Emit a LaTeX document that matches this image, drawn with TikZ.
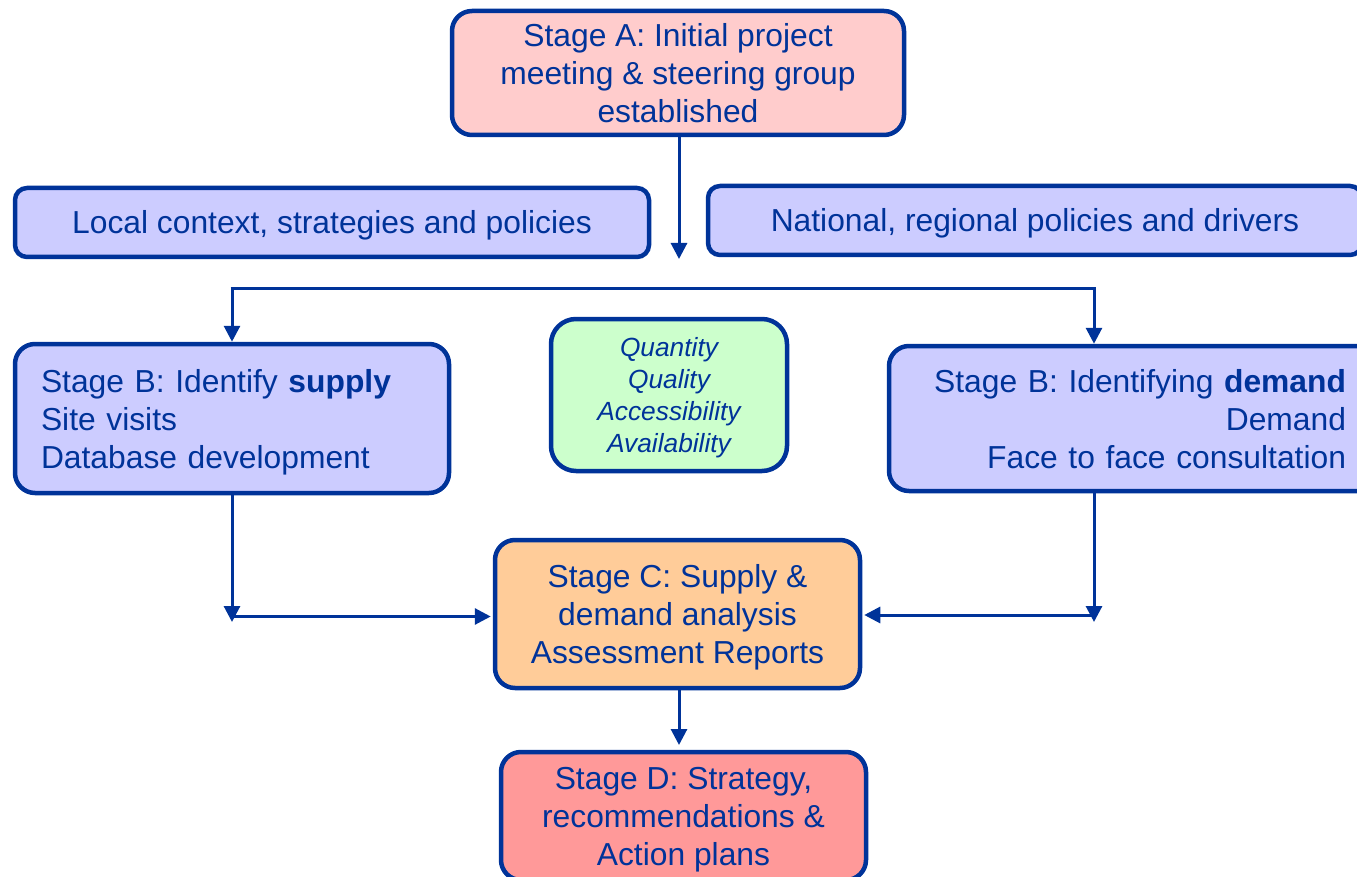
\documentclass[tikz,border=0pt]{standalone}
\usepackage{fontspec}
\setmainfont{Liberation Sans}
\usetikzlibrary{arrows.meta}
\definecolor{dblue}{RGB}{0,51,153}
\definecolor{fillA}{RGB}{255,204,204}
\definecolor{fillB}{RGB}{204,204,255}
\definecolor{fillG}{RGB}{204,255,204}
\definecolor{fillC}{RGB}{255,204,153}
\definecolor{fillD}{RGB}{255,153,153}
\newcommand\myTop{\rule{0pt}{30pt}}
\newcommand\myBot{\rule[-7pt]{0pt}{7pt}}
\newcommand\myTopS{\rule{0pt}{25pt}}
\newcommand\myBotS{\rule[-6pt]{0pt}{6pt}}
\tikzset{
  box/.style={draw=dblue, line width=4.5pt, rounded corners=20pt, text=dblue,
    inner sep=0pt, align=center, font=\fontsize{31.8}{38}\selectfont},
  link/.style={draw=dblue, line width=3pt},
  conn/.style={link, -{Triangle[length=16pt,width=16pt]}},
}
\begin{document}
\begin{tikzpicture}[x=1pt,y=-1pt]
\useasboundingbox (0,0) rectangle (1357,877);
\clip (0,0) rectangle (1357,877);
\node[box, fill=fillA, minimum width=452pt, minimum height=124pt] (sA) at (678,73)
  {\myTop Stage A: Initial project\\meeting \& steering group\\established\myBot};
\node[box, fill=fillB, rounded corners=12pt, minimum width=634pt, minimum height=69pt] (loc) at (332,222.5)
  {\myTop Local context, strategies and policies\myBot};
\node[box, fill=fillB, rounded corners=12pt, minimum width=654pt, minimum height=69pt] (nat) at (1035,220.5)
  {\myTop National, regional policies and drivers\myBot};
\node[box, fill=fillB, minimum width=434pt, minimum height=149pt, text width=382pt, align=left] (sup) at (232,418.5)
  {\myTop Stage B: Identify \textbf{supply}\\Site visits\\Database development\myBot};
\node[box, fill=fillG, rounded corners=25pt, minimum width=236pt, minimum height=152pt,
  font=\fontsize{26.3}{32}\selectfont\itshape] (qq) at (669,395)
  {\myTopS Quantity\\Quality\\Accessibility\\Availability\myBotS};
\node[box, fill=fillB, minimum width=489pt, minimum height=145pt, text width=425pt, align=right] (dem) at (1133.5,418.5)
  {\myTop Stage B: Identifying \textbf{demand}\\Demand\\Face to face consultation\myBot};
\node[box, fill=fillC, minimum width=365pt, minimum height=148pt] (sC) at (677.5,614)
  {\myTop Stage C: Supply \&\\demand analysis\\Assessment Reports\myBot};
\node[box, fill=fillD, minimum width=365pt, minimum height=128pt] (sD) at (683.5,816)
  {\myTop Stage D: Strategy,\\recommendations \&\\Action plans\myBot};
% connectors
\coordinate (t1) at (679,259);
\draw[conn] (sA.south -| t1) -- (t1);
\coordinate (jL) at (232,289);
\coordinate (jR) at (1094,289);
\draw[link] ([xshift=-1.5pt]jL) -- ([xshift=1.5pt]jR);
\draw[conn] (jL) -- (sup.north);
\draw[conn] (jR) -- (jR |- dem.north);
\coordinate (bL) at (232,622);
\coordinate (hL) at (232,616.5);
\draw[conn] (sup.south) -- (bL);
\draw[conn, shorten >=2pt] (hL) -- (hL -| sC.west);
\coordinate (bR) at (1094,622);
\coordinate (hR) at (1094,615);
\draw[conn] (bR |- dem.south) -- (bR);
\draw[conn, shorten >=2pt] (hR) -- (hR -| sC.east);
\coordinate (d1) at (679,745);
\draw[conn] (sC.south -| d1) -- (d1);
\end{tikzpicture}
\end{document}
